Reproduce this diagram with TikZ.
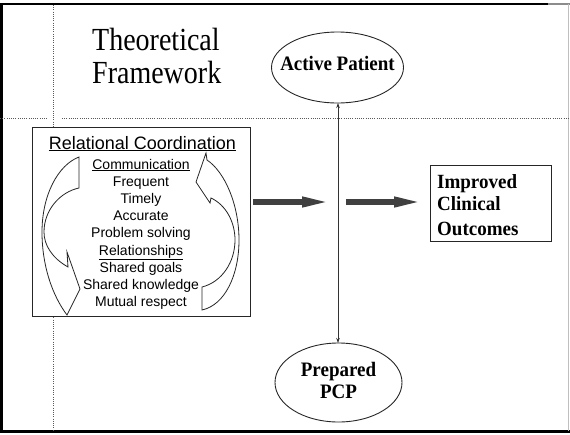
\documentclass[tikz,border=0pt]{standalone}
\usepackage{graphicx}
\usepackage{fontspec}
\setmainfont{Liberation Serif}
\setsansfont{Liberation Sans}
\usetikzlibrary{arrows.meta,shapes.geometric}
\begin{document}
\begin{tikzpicture}[x=1pt,y=-1pt,
  dotline/.style={draw=black!65, line width=0.8pt, dash pattern=on 1pt off 1.2pt},
  ellnode/.style={draw=black!85, ellipse, line width=0.9pt, inner sep=0pt},
  boxnode/.style={draw=black!85, rectangle, line width=0.9pt, inner sep=0pt, fill=white},
  titletext/.style={font=\fontsize{28}{30}\selectfont, anchor=base west, inner sep=0pt},
  serifbold/.style={font=\bfseries\fontsize{19}{22}\selectfont, inner sep=0pt},
  headtext/.style={font=\sffamily\fontsize{18}{20}\selectfont, anchor=base, inner sep=0pt},
  bodytext/.style={font=\sffamily\fontsize{14}{16}\selectfont, anchor=base, inner sep=0pt},
  curvedarrow/.style={draw=black!85, line width=0.8pt, line join=miter},
  fatarrow/.style={draw=black!75, line width=6pt, -{Triangle[length=33pt,width=9pt]}},
  thinarrow/.style={draw=black!80, line width=0.8pt, {Stealth[length=5pt,width=3.5pt]}-{Stealth[length=5pt,width=3.5pt]}}
]
\useasboundingbox (0,0) rectangle (570,434);

% frame
\draw[line width=3pt] (1.5,3) -- (1.5,433);
\draw[line width=2.5pt] (0,4) -- (548,4);
\draw[line width=2pt, black!45] (548,4) -- (570,4);
\draw[line width=3pt] (0,431.5) -- (570,431.5);
\draw[line width=0.6pt, black!25] (568.5,4) -- (568.5,431);

% dotted guide lines
\draw[dotline] (53.5,5) -- (53.5,430);
\draw[dotline] (0,118) -- (47,118);
\draw[dotline] (62,118) -- (570,118);

% title
\node[titletext] (t1) at (92,50) {\scalebox{1}[1.15]{Theoretical}};
\node[titletext] (t2) at (92,83.3) {\scalebox{1}[1.15]{Framework}};

% ellipses
\node[ellnode, minimum width=132pt, minimum height=71pt] (ap) at (337.5,67.5) {};
\node[serifbold, anchor=base] (aptext) at (337.5,70.7) {\scalebox{1}[1.08]{Active Patient}};

\node[ellnode, minimum width=127pt, minimum height=79pt] (pcp) at (338.5,382.5) {};
\node[serifbold, anchor=base] (pcpt1) at (338.5,376) {\scalebox{1}[1.08]{Prepared}};
\node[serifbold, anchor=base] (pcpt2) at (338.5,398.3) {\scalebox{1}[1.08]{PCP}};

% vertical double arrow
\coordinate (vtop) at (338,103);
\coordinate (vbot) at (338,343);
\draw[thinarrow] (vtop) -- (vbot);

% relational coordination box
\node[boxnode, minimum width=218pt, minimum height=189pt] (rc) at (141,222) {};
\node[headtext] (rchead) at (142.5,149) {\underline{Relational Coordination}};
\foreach \t [count=\i from 0] in {{\underline{Communication}},Frequent,Timely,Accurate,Problem solving,{\underline{Relationships}},Shared goals,Shared knowledge,Mutual respect}{
  \node[bodytext] (line\i) at (141,{169+17.2*\i}) {\t};
}

% curved block arrows
\draw[curvedarrow] (79,157) .. controls (58,165) and (42,195) .. (42,232)
   .. controls (42,265) and (52,295) .. (67,315) -- (80,289) -- (67,252) -- (68,267)
   .. controls (52,258) and (44,245) .. (44,232)
   .. controls (44,210) and (60,192) .. (79,188) -- cycle;
\draw[curvedarrow] (202,287) -- (202,310) .. controls (225,305) and (239,275) .. (239,240)
   .. controls (239,205) and (225,172) .. (207,160) -- (206,153) -- (196,182) -- (210,203) -- (211,198)
   .. controls (226,205) and (235,222) .. (235,240)
   .. controls (235,262) and (222,282) .. (202,287) -- cycle;

% outcome box
\node[boxnode, minimum width=121pt, minimum height=76pt] (out) at (490.5,203) {};
\node[serifbold, anchor=base west] (o1) at (437,188.3) {\scalebox{1}[1.06]{Improved}};
\node[serifbold, anchor=base west] (o2) at (437,210.7) {\scalebox{1}[1.06]{Clinical}};
\node[serifbold, anchor=base west] (o3) at (437,235) {\scalebox{1}[1.06]{Outcomes}};

% fat arrows
\coordinate (f1s) at (253,202);
\coordinate (f1e) at (335,202);
\coordinate (f2s) at (346,202);
\coordinate (f2e) at (427,202);
\draw[fatarrow] (f1s) -- (f1e);
\draw[fatarrow] (f2s) -- (f2e);
\end{tikzpicture}
\end{document}
